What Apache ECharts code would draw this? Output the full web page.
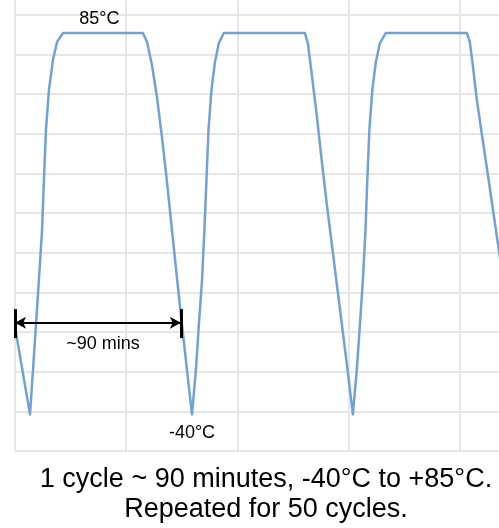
<!DOCTYPE html>
<html>
<head>
<meta charset="utf-8">
<script src="https://cdn.jsdelivr.net/npm/echarts@6/dist/echarts.min.js"></script>
<style>
  html, body { margin: 0; padding: 0; background: #fff; }
  #chart { width: 499px; height: 528px; }
</style>
</head>
<body>
<div id="chart"></div>
<script>
// Time in minutes, temperature in °C
const timeMin = [0, 8.1, 9.7, 11.3, 12.9, 14.6, 15.6, 16.7, 18.3, 20.5, 22.7, 25.9,
  69.0, 71.2, 73.9, 76.6, 79.3, 82.0, 84.7, 87.4, 90.1, 92.8, 95.5,
  97.6, 99.2, 100.9, 102.2, 103.3, 104.4, 106.0, 107.9, 110.0, 112.7,
  156.4, 158.0, 160.2, 162.9, 165.6, 168.3, 171.0, 173.7, 176.4, 179.1, 182.3,
  184.4, 186.1, 187.7, 189.1, 190.1, 191.2, 192.8, 194.7, 196.9, 200.1,
  243.8, 245.4, 247.0, 249.2, 251.9, 254.6, 257.3, 260.5, 263.7];
const tempC = [-11.4, -40, -25.5, -10.7, 4.0, 20.4, 36.8, 53.2, 66.3, 76.2, 82.1, 85,
  85, 82.1, 74.5, 64.0, 50.9, 36.2, 20.4, 4.7, -10.7, -25.5, -40,
  -25.5, -10.7, 4.0, 20.4, 36.8, 53.2, 66.3, 75.5, 81.7, 85,
  85, 81.7, 71.2, 57.5, 42.7, 28.6, 15.5, 2.4, -10.7, -23.8, -40,
  -25.5, -10.7, 4.0, 20.4, 36.8, 53.2, 66.3, 75.5, 81.7, 85,
  85, 82.1, 74.5, 63.0, 51.9, 40.8, 29.6, 16.2, 2.7];

const labelHigh = '85°C';
const labelLow = '-40°C';
const labelPeriod = '~90 mins';
const captionLines = ['1 cycle ~ 90 minutes, -40°C to +85°C.', 'Repeated for 50 cycles.'];

const seriesData = timeMin.map((t, i) => [t, tempC[i]]);

const chart = echarts.init(document.getElementById('chart'), null, { renderer: 'canvas' });
const FONT = 'Liberation Sans, Arial, sans-serif';
const gridLine = { show: true, lineStyle: { color: '#e6e6e6', width: 2 } };

chart.setOption({
  animation: false,
  backgroundColor: '#ffffff',
  title: {
    text: captionLines.join('\n'),
    left: 266,
    top: 465,
    padding: 0,
    textAlign: 'center',
    textStyle: { fontSize: 27, lineHeight: 30, fontFamily: FONT, fontWeight: 'normal', color: '#000' }
  },
  grid: { left: 15, top: -25, width: 556, height: 476, containLabel: false, outerBoundsMode: 'none' },
  xAxis: {
    type: 'value', min: 0, max: 300, interval: 60,
    axisLine: { show: false }, axisTick: { show: false }, axisLabel: { show: false },
    splitLine: gridLine
  },
  yAxis: {
    type: 'value', min: -52, max: 104, interval: 13,
    axisLine: { show: false }, axisTick: { show: false }, axisLabel: { show: false },
    splitLine: gridLine
  },
  series: [{
    type: 'line',
    data: seriesData,
    showSymbol: false,
    symbol: 'none',
    smooth: false,
    clip: false,
    lineStyle: { color: '#72a2d4', width: 2.5, join: 'round' },
    markPoint: {
      silent: true,
      symbol: 'circle',
      symbolSize: 1,
      itemStyle: { color: 'rgba(0,0,0,0)' },
      label: { show: true, position: 'inside', fontSize: 18, fontFamily: FONT, color: '#000' },
      data: [
        { coord: [45.5, 89.5], value: labelHigh, label: { formatter: labelHigh } },
        { coord: [95.5, -46], value: labelLow, label: { formatter: labelLow } },
        { coord: [47.5, -17], value: labelPeriod, label: { formatter: labelPeriod } }
      ]
    },
    markLine: {
      silent: true,
      symbol: ['arrow', 'arrow'],
      symbolSize: [9, 11],
      label: { show: false },
      lineStyle: { color: '#000', width: 2, type: 'solid' },
      data: [
        [{ coord: [0, -10] }, { coord: [89.5, -10] }],
        [{ coord: [0, -5.5], symbol: 'none', lineStyle: { width: 3 } }, { coord: [0, -15], symbol: 'none' }],
        [{ coord: [89.5, -5.5], symbol: 'none', lineStyle: { width: 3 } }, { coord: [89.5, -15], symbol: 'none' }]
      ]
    }
  }]
});
</script>
</body>
</html>
